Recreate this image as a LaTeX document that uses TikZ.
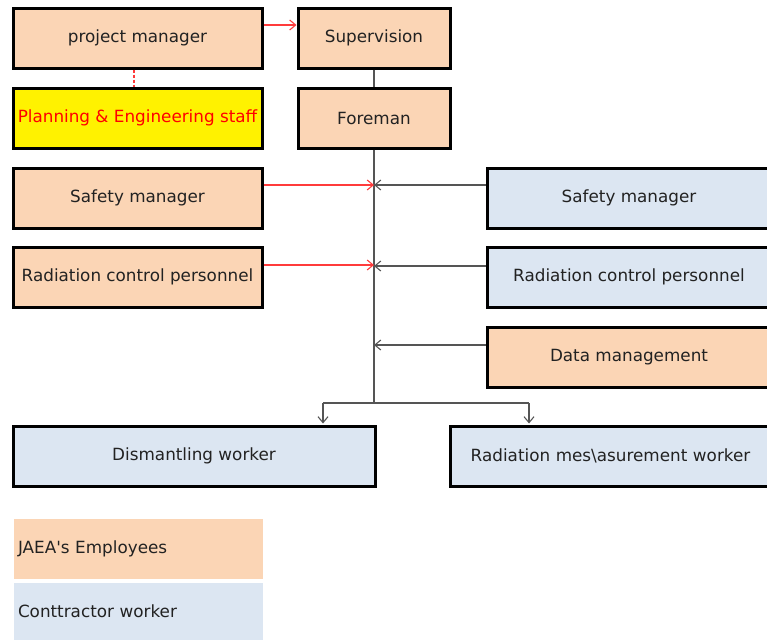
\documentclass[tikz,border=0pt]{standalone}
\usepackage{fontspec}
\setmainfont{DejaVu Sans}[Ligatures=TeXOff]
\usetikzlibrary{arrows.meta}
\definecolor{jaea}{HTML}{FBD5B5}
\definecolor{contr}{HTML}{DCE6F2}
\definecolor{txt}{HTML}{222222}
\definecolor{redln}{HTML}{FF3B3B}
\definecolor{grayln}{HTML}{555555}
\tikzset{
  box/.style={draw=black, line width=3pt, rectangle, inner sep=0pt, minimum height=60pt,
    text=txt, font=\fontsize{16.8}{19}\selectfont},
  obox/.style={box, fill=jaea},
  bbox/.style={box, fill=contr},
  ybox/.style={box, fill=yellow, text=red},
  legbox/.style={rectangle, inner xsep=4pt, inner ysep=0pt, text width=241pt, align=left,
    text=txt, font=\fontsize{16.8}{19}\selectfont},
  tip/.style={-{Straight Barb[length=6pt,width=10pt]}},
  redarr/.style={tip, draw=redln, line width=1.1pt},
  grayarr/.style={tip, draw=grayln, line width=1.1pt},
  grayln/.style={draw=grayln, line width=1.1pt},
}
\begin{document}
\begin{tikzpicture}[x=1pt,y=-1pt]
\useasboundingbox (0,0) rectangle (767,640);
% boxes
\node[obox, minimum width=249pt] (pm) at (137.5,38) {project manager};
\node[obox, minimum width=152pt] (sup) at (374,38) {Supervision};
\node[ybox, minimum width=249pt] (pes) at (137.5,118) {Planning \& Engineering staff};
\node[obox, minimum width=152pt] (fore) at (374,118) {Foreman};
\node[obox, minimum width=249pt] (sml) at (137.5,198) {Safety manager};
\node[bbox, minimum width=284pt] (smr) at (629,198) {Safety manager};
\node[obox, minimum width=249pt] (rcl) at (137.5,277) {Radiation control personnel};
\node[bbox, minimum width=284pt] (rcr) at (629,277) {Radiation control personnel};
\node[obox, minimum width=284pt] (dm) at (629,357) {Data management};
\node[bbox, minimum width=362pt] (dw) at (194,456) {Dismantling worker};
\node[bbox, minimum width=321pt, text width=310pt, align=center] (rmw) at (610.5,456) {Radiation mes\textbackslash asurement worker};
% legend
\node[legbox, fill=jaea, minimum height=60pt] (leg1) at (138.5,549) {JAEA's Employees};
\node[legbox, fill=contr, minimum height=57pt] (leg2) at (138.5,611.5) {Conttractor worker};
% connectors
\draw[redarr] ([yshift=13pt]pm.east) -- ([yshift=13pt]pm.east -| sup.west);
\draw[draw=redln, line width=1.2pt, dash pattern=on 3pt off 2pt] ([xshift=-3.5pt]pm.south) -- ([xshift=-3.5pt]pes.north);
\draw[grayln] (sup.south) -- (fore.north);
\coordinate (yb) at (0,403);
\coordinate (bj) at (fore.south |- yb);
\draw[grayln] (fore.south) -- (bj);
\draw[redarr] ([yshift=13pt]sml.east) -- ([yshift=13pt]sml.east -| fore.south);
\draw[grayarr] ([yshift=13pt]smr.west) -- ([yshift=13pt]smr.west -| fore.south);
\draw[redarr] ([yshift=12pt]rcl.east) -- ([yshift=12pt]rcl.east -| fore.south);
\draw[grayarr] ([yshift=11pt]rcr.west) -- ([yshift=11pt]rcr.west -| fore.south);
\draw[grayarr] ([yshift=12pt]dm.west) -- ([yshift=12pt]dm.west -| fore.south);
\coordinate (dl) at (323,403);
\coordinate (dr) at (529,403);
\draw[grayln] (dl) -- (dr);
\draw[grayarr] (dl) -- ([yshift=1pt]dl |- dw.north);
\draw[grayarr] (dr) -- ([yshift=1pt]dr |- rmw.north);
\end{tikzpicture}
\end{document}
